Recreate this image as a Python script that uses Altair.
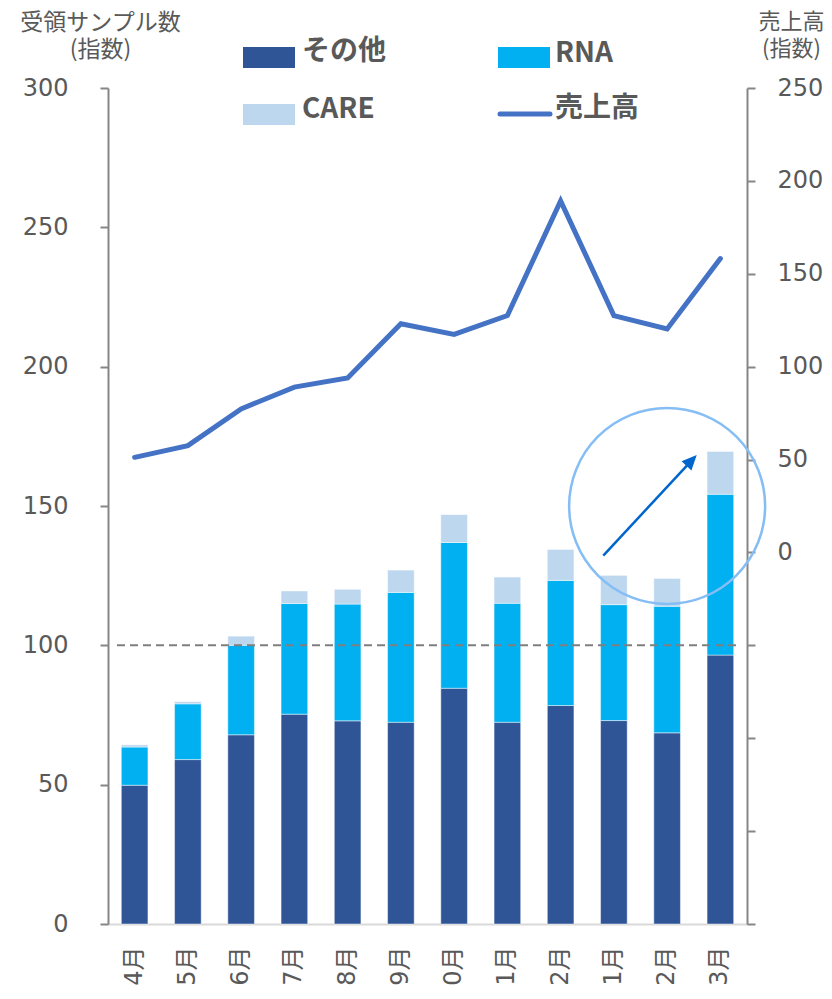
import altair as alt
import pandas as pd

# ---------------- data ----------------
months = ["4月", "5月", "6月", "7月", "8月", "9月", "10月", "11月", "12月", "1月", "2月", "3月"]
other = [49.8, 59.0, 67.9, 75.3, 72.9, 72.4, 84.6, 72.4, 78.4, 73.0, 68.6, 96.5]
rna = [13.7, 20.0, 32.1, 39.7, 41.9, 46.6, 52.3, 42.7, 44.9, 41.6, 45.4, 57.7]
care = [0.8, 0.8, 3.3, 4.5, 5.3, 8.0, 10.0, 9.4, 11.1, 10.5, 10.0, 15.4]
sales = [51.2, 57.5, 77.3, 89.0, 93.9, 123.1, 117.4, 127.5, 189.2, 127.5, 120.3, 158.2]

series_names = ["その他", "RNA", "CARE"]
series_colors = ["#2F5597", "#00B0F0", "#BDD7EE"]
sales_name = "売上高"
sales_color = "#4472C4"

left_ticks = [0, 50, 100, 150, 200, 250, 300]
right_ticks = [-200, -150, -100, -50, 0, 50, 100, 150, 200, 250]
ref_level = [100]

left_title = ["受領サンプル数", "(指数)"]
right_title = ["売上高", "(指数)"]

# annotation (circle + arrow) in data terms
circle_month, circle_v = ["2月"], [150]
arrow_from_month, arrow_from_v = ["1月"], [132.2]
arrow_to_month, arrow_to_v = ["2月"], [166.2]
head_month, head_v = ["2月"], [168.3]

rows = []
for k, (name, vals) in enumerate(zip(series_names, [other, rna, care])):
    for m, v in zip(months, vals):
        rows.append({"month": m, "series": name, "v": v, "order": k})
bars_df = pd.DataFrame(rows)
sales_df = pd.DataFrame({"month": months, "sales": sales})

# ---------------- styles ----------------
W, H = 639, 836
TXT = "#595959"
AX = "#868686"
NUM_FONT = "DejaVu Sans"
JP_FONT = "Noto Sans CJK JP"

x_enc = alt.X(
    "month:N",
    sort=months,
    scale=alt.Scale(domain=months, paddingInner=0.5, paddingOuter=0.25),
    axis=alt.Axis(
        title=None, ticks=False, grid=False,
        domainColor="#D9D9D9", domainWidth=2,
        labelAngle=270, labelFont="DejaVu Sans, Noto Sans CJK JP",
        labelFontSize=24, labelColor=TXT, labelPadding=22,
    ),
)

left_scale = alt.Scale(domain=[0, 300], nice=False)
left_axis = alt.Axis(
    values=left_ticks, grid=False,
    tickSize=8, tickColor=AX, tickWidth=2,
    domainColor=AX, domainWidth=2,
    labelFont=NUM_FONT, labelFontSize=24, labelColor=TXT, labelPadding=32,
    title=left_title, titleAngle=0, titleAlign="center", titleBaseline="top",
    titleX=-8, titleY=-77, titleFont=JP_FONT, titleFontSize=23,
    titleFontWeight="normal", titleColor=TXT, titleLineHeight=27,
)


def yleft(field):
    return alt.Y(field, scale=left_scale, axis=left_axis)


bars = alt.Chart(bars_df).mark_bar(
    stroke="white", strokeWidth=1, strokeOpacity=0.45
).encode(
    x=x_enc,
    y=alt.Y("v:Q", stack="zero", scale=left_scale, axis=left_axis),
    color=alt.Color("series:N", scale=alt.Scale(domain=series_names, range=series_colors), legend=None),
    order=alt.Order("order:Q", sort="ascending"),
)

dash = alt.Chart(pd.DataFrame({"v": ref_level})).mark_rule(
    color="#7F7F7F", strokeDash=[8, 5], strokeWidth=2
).encode(y=yleft("v:Q"), x=alt.value(9), x2=alt.value(628))

circle = alt.Chart(pd.DataFrame({"month": circle_month, "v": circle_v})).mark_point(
    shape="circle", size=(2 * 98) ** 2, filled=False,
    color="#85BDF5", strokeWidth=2.5, opacity=1,
).encode(x=x_enc, y=yleft("v:Q"))

arrow = alt.Chart(pd.DataFrame({
    "month": arrow_from_month, "month2": arrow_to_month,
    "v": arrow_from_v, "v2": arrow_to_v,
})).mark_rule(
    color="#0066CC", strokeWidth=2.5, xOffset=-10.6, x2Offset=24.2
).encode(x=x_enc, x2="month2:N", y=yleft("v:Q"), y2="v2:Q")

head = alt.Chart(pd.DataFrame({"month": head_month, "v": head_v})).mark_point(
    shape="M0,0L-0.45,1L0.45,1Z", size=900, angle=43, filled=True,
    color="#0066CC", opacity=1, xOffset=29.6,
).encode(x=x_enc, y=yleft("v:Q"))


# ---------------- manual legend ----------------
def swatch(label, color, x0, y0, tx, ty):
    d = pd.DataFrame({"label": [label]})
    r = alt.Chart(d).mark_rect(color=color).encode(
        x=alt.value(x0), x2=alt.value(x0 + 52), y=alt.value(y0), y2=alt.value(y0 + 21)
    )
    t = alt.Chart(d).mark_text(
        align="left", baseline="middle", font=JP_FONT, fontSize=28,
        fontWeight="bold", color=TXT,
    ).encode(text="label:N", x=alt.value(tx), y=alt.value(ty))
    return [r, t]


legend_layers = []
legend_layers += swatch(series_names[0], series_colors[0], 135, -41, 194, -36)
legend_layers += swatch(series_names[1], series_colors[1], 390, -41, 447, -34)
legend_layers += swatch(series_names[2], series_colors[2], 135, 16, 194, 22)
sales_leg = pd.DataFrame({"label": [sales_name]})
legend_layers.append(
    alt.Chart(sales_leg).mark_rule(color=sales_color, strokeWidth=5, strokeCap="round").encode(
        x=alt.value(392), x2=alt.value(442), y=alt.value(26)
    )
)
legend_layers.append(
    alt.Chart(sales_leg).mark_text(
        align="left", baseline="middle", font=JP_FONT, fontSize=28,
        fontWeight="bold", color=TXT,
    ).encode(text="label:N", x=alt.value(447), y=alt.value(21))
)

# ---------------- right axis line ----------------
right_axis = alt.Axis(
    orient="right", values=right_ticks, grid=False,
    labelExpr="datum.value >= 0 ? datum.label : ''",
    tickSize=8, tickColor=AX, tickWidth=2,
    domainColor=AX, domainWidth=2,
    labelFont=NUM_FONT, labelFontSize=24, labelColor=TXT, labelPadding=22,
    title=right_title, titleAngle=0, titleAlign="center", titleBaseline="top",
    titleX=44, titleY=-77, titleFont=JP_FONT, titleFontSize=22,
    titleFontWeight="normal", titleColor=TXT, titleLineHeight=27,
)

line = alt.Chart(sales_df).mark_line(
    color=sales_color, strokeWidth=5, strokeCap="round"
).encode(
    x=x_enc,
    y=alt.Y("sales:Q", scale=alt.Scale(domain=[-200, 250], nice=False), axis=right_axis),
)

left_group = alt.layer(bars, dash, *legend_layers, circle, arrow, head)

chart = alt.layer(left_group, line).resolve_scale(y="independent").properties(
    width=W, height=H,
    autosize=alt.AutoSizeParams(type="none"),
    padding={"left": 100, "top": 80, "right": 77, "bottom": 62},
).configure_view(stroke=None)

chart.save("out.html", embed_options={"renderer": "svg", "actions": False})
